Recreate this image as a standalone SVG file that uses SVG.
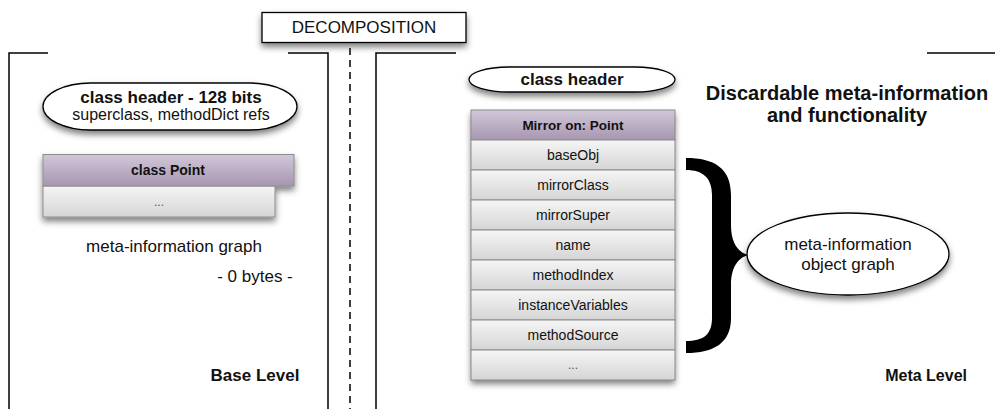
<svg xmlns="http://www.w3.org/2000/svg" width="995" height="409" viewBox="0 0 995 409">
  <defs>
    <filter id="shadow" x="-20%" y="-30%" width="140%" height="170%">
      <feDropShadow dx="0" dy="4" stdDeviation="3" flood-color="#000" flood-opacity="0.5"/>
    </filter>
    <linearGradient id="rowFill" x1="0" y1="0" x2="0" y2="1">
      <stop offset="0" stop-color="#f5f5f5"/>
      <stop offset="1" stop-color="#d5d5d5"/>
    </linearGradient>
    <linearGradient id="headFill" x1="0" y1="0" x2="0" y2="1">
      <stop offset="0" stop-color="#d2c8d9"/>
      <stop offset="1" stop-color="#a696b0"/>
    </linearGradient>
    <style>
      text { font-family: "Liberation Sans", Arial, Helvetica, sans-serif; fill: #111; }
      .frame { fill: none; stroke: #000; stroke-width: 1.5; }
      .dash { fill: none; stroke: #000; stroke-width: 1.5; stroke-dasharray: 7 5; }
      .bubble { fill: #fff; stroke: #000; stroke-width: 1.3; }
      .row { fill: url(#rowFill); stroke: #8c8c8c; stroke-width: 1; }
      .head { fill: url(#headFill); stroke: #8c8c8c; stroke-width: 1; }
      .cell { font-size: 14px; text-anchor: middle; }
      .cellb { font-size: 13.5px; font-weight: bold; text-anchor: middle; }
      .lbl { font-size: 17px; text-anchor: middle; }
      .lblb { font-size: 17px; font-weight: bold; text-anchor: middle; }
      .dots { font-size: 12px; text-anchor: middle; fill: #555; }
    </style>
  </defs>

  <!-- level frames and the dashed decomposition line -->
  <g id="frames">
    <polyline class="frame" points="48,53 9,53 9,409"/>
    <polyline class="frame" points="288,53 328,53 328,409"/>
    <polyline class="frame" points="456,53 376,53 376,409"/>
    <line class="frame" x1="927" y1="53" x2="995" y2="53"/>
    <line class="dash" x1="350" y1="48" x2="350" y2="409"/>
  </g>

  <g id="decomposition">
    <rect x="262" y="12.5" width="204" height="30" fill="#fff" stroke="#000" stroke-width="1.3" filter="url(#shadow)"/>
    <text class="lbl" x="364" y="33">DECOMPOSITION</text>
  </g>

  <!-- base level -->
  <g id="base-header">
    <rect class="bubble" x="43" y="83" width="254" height="47" rx="48" ry="23.5" filter="url(#shadow)"/>
    <text class="lblb" x="171" y="102.5">class header - 128 bits</text>
    <text class="lbl" x="171" y="119.5" style="font-size:16px">superclass, methodDict refs</text>
  </g>

  <g id="class-point" filter="url(#shadow)">
    <rect class="row" x="43" y="186" width="232" height="31"/>
    <rect class="head" x="43" y="154.5" width="251" height="31.5"/>
  </g>
  <g id="class-point-text">
    <text class="cellb" x="168" y="175" style="font-size:14px">class Point</text>
    <text class="dots" x="159" y="206">...</text>
  </g>

  <g id="base-notes">
    <text class="lbl" x="174" y="251.5">meta-information graph</text>
    <text class="lbl" x="255" y="282">- 0 bytes -</text>
    <text class="lblb" x="255" y="381">Base Level</text>
  </g>

  <!-- meta level -->
  <g id="meta-header">
    <rect class="bubble" x="469" y="67" width="206" height="25" rx="40" ry="12.5" filter="url(#shadow)"/>
    <text class="lblb" x="572" y="85">class header</text>
  </g>

  <g id="mirror-table">
    <rect x="471" y="110" width="204" height="270" fill="#ddd" filter="url(#shadow)"/>
    <rect class="head" x="471" y="110" width="204" height="30"/>
    <rect class="row" x="471" y="140" width="204" height="30"/>
    <rect class="row" x="471" y="170" width="204" height="30"/>
    <rect class="row" x="471" y="200" width="204" height="30"/>
    <rect class="row" x="471" y="230" width="204" height="30"/>
    <rect class="row" x="471" y="260" width="204" height="30"/>
    <rect class="row" x="471" y="290" width="204" height="30"/>
    <rect class="row" x="471" y="320" width="204" height="30"/>
    <rect class="row" x="471" y="350" width="204" height="30"/>
    <text class="cellb" x="573" y="129.5">Mirror on: Point</text>
    <text class="cell" x="573" y="160">baseObj</text>
    <text class="cell" x="573" y="190">mirrorClass</text>
    <text class="cell" x="573" y="220">mirrorSuper</text>
    <text class="cell" x="573" y="250">name</text>
    <text class="cell" x="573" y="280">methodIndex</text>
    <text class="cell" x="573" y="310">instanceVariables</text>
    <text class="cell" x="573" y="340">methodSource</text>
    <text class="dots" x="573" y="369">...</text>
  </g>

  <g id="discardable-note">
    <text class="lblb" x="847" y="100" style="font-size:20px">Discardable meta-information</text>
    <text class="lblb" x="847" y="122" style="font-size:20px">and functionality</text>
  </g>

  <!-- brace grouping the mirror slots -->
  <g id="connectors">
    <path d="M686,158 C714,158 731,168 731,195 L731,225 C731,243 738,252 748,255 C738,258 731,267 731,285 L731,318 C731,343 714,353 686,353 L686,341 C703,341 712,335 712,318 L712,195 C712,178 703,170 686,170 Z" fill="#000"/>
  </g>

  <g id="object-graph">
    <ellipse class="bubble" cx="848" cy="254" rx="101" ry="41" filter="url(#shadow)"/>
    <text class="lbl" x="848" y="249.5">meta-information</text>
    <text class="lbl" x="848" y="269.5">object graph</text>
  </g>

  <g id="meta-label">
    <text class="lblb" x="967" y="381" style="font-size:16px;text-anchor:end">Meta Level</text>
  </g>
</svg>
